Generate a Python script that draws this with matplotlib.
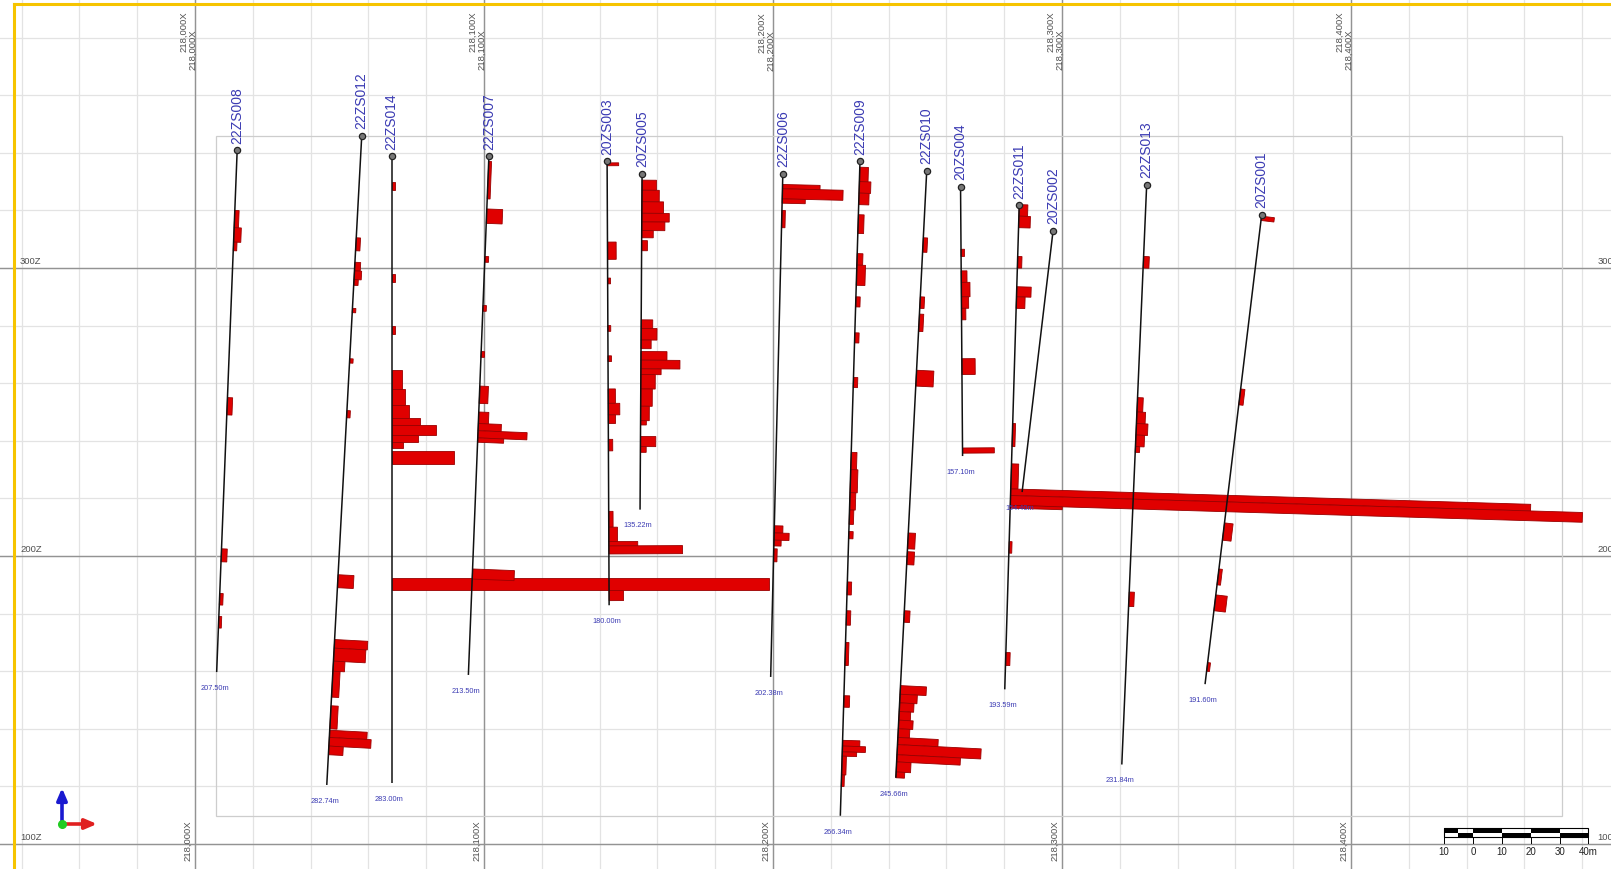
import matplotlib
matplotlib.use('Agg')
import matplotlib.pyplot as plt
from matplotlib.patches import Polygon, Rectangle
from matplotlib.lines import Line2D
import numpy as np

# ---------------- data ----------------
hole_ids = ['22ZS008', '22ZS012', '22ZS014', '22ZS007', '20ZS003', '20ZS005', '22ZS006',
            '22ZS009', '22ZS010', '20ZS004', '22ZS011', '20ZS002', '22ZS013', '20ZS001']
collar_x = [218014.6, 218057.7, 218068.0, 218101.7, 218142.6, 218154.7, 218203.4,
            218230.1, 218253.2, 218264.9, 218285.2, 218296.9, 218329.3, 218369.1]
collar_z = [340.9, 345.9, 338.8, 338.8, 337.0, 332.7, 332.7,
            337.0, 333.8, 328.1, 321.7, 312.8, 328.8, 318.5]
end_x = [218007.5, 218045.6, 218068.0, 218094.6, 218143.3, 218154.0, 218199.2,
         218223.3, 218242.5, 218265.6, 218280.2, 218286.2, 218320.7, 218349.5]
end_z = [159.7, 120.5, 121.2, 158.7, 182.9, 216.1, 158.0,
         109.8, 123.0, 234.7, 153.7, 222.2, 127.6, 155.5]
depth_labels = ['207.50m', '282.74m', '283.00m', '213.50m', '180.00m', '135.22m', '202.38m',
                '266.34m', '245.66m', '157.10m', '193.59m', '154.40m', '231.84m', '191.60m']

# assay intervals per hole: (elevation top, elevation bottom, value)
intervals = {
    '22ZS008': [(320, 314, 1.5), (314, 309, 2.5), (309, 306, 1.2), (255, 249, 1.8), (202.5, 198, 2.0),
                (187, 183, 1.2), (179, 175, 1.0)],
    '22ZS012': [(310.5, 306, 1.5), (302, 299, 2.0), (299, 296, 2.5), (296, 294, 1.5), (286, 284.5, 1.2),
                (268.5, 267, 1.2), (250.5, 248, 1.2), (193.5, 189, 5.5), (171, 168, 11.5), (168, 163.5, 11),
                (163.5, 160, 4), (160, 151, 2.5), (148, 140, 2.5), (139.5, 137, 13), (137, 134, 14.5),
                (134, 131, 5)],
    '22ZS014': [(330, 327, 1.2), (298, 295, 1.2), (280, 277, 1.2), (264.5, 258, 3.5), (258, 252.5, 4.5),
                (252.5, 248, 6), (248, 245.5, 10), (245.5, 242, 15.5), (242, 239.5, 9), (239.5, 237.5, 4),
                (236.5, 232, 21.5), (192.4, 188.2, 130.6)],
    '22ZS007': [(337, 324, 1.0), (320.5, 315.5, 5.5), (304, 302, 1.3), (287, 285, 1.2), (271, 269, 1.2),
                (259, 253, 3), (250, 246, 3.5), (246, 243.5, 8), (243.5, 241, 17), (241, 239.5, 9),
                (195.5, 192, 14.5)],
    '20ZS003': [(336.5, 335.5, 4), (309, 303, 3), (296.5, 294.5, 1), (280, 278, 1), (269.5, 267.5, 1.2),
                (258, 253, 2.5), (253, 249, 4), (249, 246, 2.5), (240.5, 236.5, 1.5), (215.5, 210, 1.5),
                (210, 205, 3), (205, 203.5, 10), (203.5, 200.7, 25.5), (188, 184.5, 5)],
    '20ZS005': [(330.5, 327, 5), (327, 323, 6), (323, 319, 7.5), (319, 316, 9.5), (316, 313, 8),
                (313, 310.5, 4), (309.5, 306, 2), (282, 279, 4), (279, 275, 5.5), (275, 272, 3.5),
                (271, 268, 9), (268, 265, 13.5), (265, 263, 7), (263, 258, 5), (258, 252, 4), (252, 247, 3),
                (247, 245.5, 2), (241.5, 238, 5.3), (238, 236, 2)],
    '22ZS006': [(329, 327.5, 13), (327.5, 324, 21), (324, 322.5, 8), (320, 314, 1.2), (210.5, 208, 3),
                (208, 205.5, 5.2), (205.5, 203.5, 2.5), (202.5, 198, 1.2)],
    '22ZS009': [(335, 330, 3), (330, 326, 4), (326, 322, 3.5), (318.5, 312, 2), (305, 301, 2), (301, 294, 3),
                (290, 286.5, 1.5), (277.5, 274, 1.5), (262, 258.5, 1.5), (236, 230, 2), (230, 222, 2.5),
                (222, 216, 2), (216, 211, 1.5), (208.5, 206, 1.5), (191, 186.5, 1.5), (181, 176, 1.5),
                (170, 162, 1.2), (151.5, 147.5, 2), (136, 134, 6), (134, 132, 8), (132, 130.5, 5),
                (130.5, 124, 1.5), (124, 120, 1)],
    '22ZS010': [(310.5, 305.5, 1.5), (290, 286, 1.5), (284, 278, 1.5), (264.5, 259, 6), (208, 202.5, 2.5),
                (201.5, 197, 2.5), (181, 177, 2), (155, 152, 9), (152, 149, 6), (149, 146, 5), (146, 143, 4),
                (143, 140, 5), (140, 137, 4), (137, 134.5, 14), (134.5, 131, 29), (131, 128.5, 22),
                (128.5, 125, 5), (125, 123, 3)],
    '20ZS004': [(306.5, 304, 1.2), (299, 295, 2), (295, 290, 3), (290, 286, 2.5), (286, 282, 1.5),
                (268.5, 263, 4.6), (237.5, 235.7, 11)],
    '22ZS011': [(322, 318, 3), (318, 314, 4), (304, 300, 1.5), (293.5, 290, 5), (290, 286, 3), (246, 238, 1),
                (232, 223.3, 2.5), (223.3, 221.0, 180), (221.0, 217.6, 198), (217.6, 216.6, 18),
                (205, 201, 1), (166.5, 162, 1.5)],
    '20ZS002': [],
    '22ZS013': [(304, 300, 2), (255, 250, 2), (250, 246, 3), (246, 242, 4), (242, 238, 3), (238, 236, 1.5),
                (187.5, 182.5, 1.8)],
    '20ZS001': [(318, 316.5, 4.5), (258, 252.5, 1.5), (211.5, 205.5, 3), (195.5, 190, 1.2), (186.5, 181, 4),
                (163, 160, 1)],
}

easting_ticks = [218000, 218100, 218200, 218300, 218400]
easting_labels = ['218,000X', '218,100X', '218,200X', '218,300X', '218,400X']
elev_ticks = [100, 200, 300]
elev_labels = ['100Z', '200Z', '300Z']
scale_labels = ['10', '0', '10', '20', '30', '40m']
scale_steps = [0, 10, 20, 30, 40, 50]

# ---------------- figure ----------------
W, H = 1611, 870
fig = plt.figure(figsize=(W / 100, H / 100), dpi=100)
ax = fig.add_axes([0, 0, 1, 1])
X0, X1 = 217932.53, 218489.97
Z0, Z1 = 91.32, 393.40
ax.set_xlim(X0, X1)
ax.set_ylim(Z0, Z1)
ax.axis('off')


def px(xp, yp):
    return X0 + xp / W * (X1 - X0), Z1 - yp / H * (Z1 - Z0)


FONT = 'Liberation Sans'
BLUE = '#3b3bb3'

# grid
for xv in np.arange(217940, 218481, 20):
    ax.axvline(xv, color='#e3e3e3', lw=0.9, zorder=0.5)
for zv in np.arange(100, 391, 20):
    ax.axhline(zv, color='#e3e3e3', lw=0.9, zorder=0.5)
for xv in easting_ticks:
    ax.axvline(xv, color='#939393', lw=1.0, zorder=1)
for zv in elev_ticks:
    ax.axhline(zv, color='#939393', lw=1.0, zorder=1)

# inner frame
fx0, fz1 = px(216, 137)
fx1, fz0 = px(1562, 817)
ax.add_patch(Rectangle((fx0, fz0), fx1 - fx0, fz1 - fz0, fill=False, ec='#cdcdcd', lw=0.9, zorder=1.2))

# axis labels
for xv, lab in zip(easting_ticks, easting_labels):
    ax.annotate(lab, (xv, Z1), xytext=(-8, -8.5), textcoords='offset points', rotation=90,
                ha='center', va='top', fontsize=6.8, color='#505050', family=FONT)
    ax.annotate(lab, (xv, Z1), xytext=(-1.5, -21.5), textcoords='offset points', rotation=90,
                ha='center', va='top', fontsize=6.8, color='#505050', family=FONT)
    ax.annotate(lab, (xv, Z0), xytext=(-5, 36), textcoords='offset points', rotation=90,
                ha='center', va='top', fontsize=6.8, color='#505050', family=FONT)
for zv, lab in zip(elev_ticks, elev_labels):
    ax.annotate(lab, (X0, zv), xytext=(14.4, 2.5), textcoords='offset points',
                ha='left', va='bottom', fontsize=6.8, color='#505050', family=FONT)
    ax.annotate(lab, (X1, zv), xytext=(-10, 2.5), textcoords='offset points',
                ha='left', va='bottom', fontsize=6.8, color='#505050', family=FONT)

# holes
for i, hid in enumerate(hole_ids):
    cx, cz, ex, ez = collar_x[i], collar_z[i], end_x[i], end_z[i]
    d = np.array([ex - cx, ez - cz])
    d = d / np.hypot(*d)
    n = np.array([-d[1], d[0]])  # perpendicular pointing right

    def pos(z):
        t = (cz - z) / (cz - ez)
        return np.array([cx + t * (ex - cx), cz + t * (ez - cz)])

    for (zt, zb, v) in intervals[hid]:
        p1, p2 = pos(zt), pos(zb)
        poly = [p1, p2, p2 + v * n, p1 + v * n]
        ax.add_patch(Polygon(poly, closed=True, fc='#e00000', ec='#9a0000', lw=0.6, zorder=3))

    ax.plot([cx, ex], [cz, ez], color='#111111', lw=1.1, zorder=4, solid_capstyle='butt')
    ax.plot([cx], [cz], 'o', ms=4.5, mfc='#777777', mec='#222222', mew=0.9, zorder=5)
    ax.annotate(hid, (cx, cz), xytext=(0, 5.5), textcoords='offset points', rotation=90,
                ha='center', va='bottom', fontsize=10, color=BLUE, family=FONT, zorder=6)
    ax.annotate(depth_labels[i], (ex, ez), xytext=(-1.5, -11), textcoords='offset points',
                ha='center', va='center', fontsize=5.3, color=BLUE, family=FONT, zorder=6)

# scale bar
sx0, sz_top = px(1444, 829)
_, sz_mid = px(1444, 833.5)
_, sz_bot = px(1444, 837.5)
_, sz_tick = px(1444, 844)
_, sz_lab = px(1444, 852)
ax.add_patch(Rectangle((sx0, sz_bot), 50, sz_top - sz_bot, fill=False, ec='black', lw=0.8, zorder=6))
blocks = [(0, 5, 'top'), (5, 10, 'bot'), (10, 20, 'top'), (20, 30, 'bot'), (30, 40, 'top'), (40, 50, 'bot')]
for a, b, row in blocks:
    if row == 'top':
        ax.add_patch(Rectangle((sx0 + a, sz_mid), b - a, sz_top - sz_mid, fc='black', ec='none', zorder=6))
    else:
        ax.add_patch(Rectangle((sx0 + a, sz_bot), b - a, sz_mid - sz_bot, fc='black', ec='none', zorder=6))
for st, lab in zip(scale_steps, scale_labels):
    ax.plot([sx0 + st, sx0 + st], [sz_bot, sz_tick], color='black', lw=0.7, zorder=6)
    ax.text(sx0 + st, sz_lab, lab, ha='center', va='center', fontsize=7, color='#222222',
            family=FONT, zorder=6)

# orientation triad
ax.annotate('', xy=(62, H - 789), xytext=(62, H - 826), xycoords='figure pixels',
            textcoords='figure pixels',
            arrowprops=dict(arrowstyle='-|>,head_length=0.7,head_width=0.3', color='#1a1ad0', lw=2.6,
                            shrinkA=0, shrinkB=0))
ax.annotate('', xy=(97, H - 825), xytext=(61, H - 825), xycoords='figure pixels',
            textcoords='figure pixels',
            arrowprops=dict(arrowstyle='-|>,head_length=0.7,head_width=0.3', color='#e02020', lw=2.6,
                            shrinkA=0, shrinkB=0))
fig.add_artist(Line2D([62 / W], [1 - 825 / H], marker='o', ms=5.5, color='#22cc22',
                      transform=fig.transFigure, zorder=10))

# yellow frame
ycol = '#f6c400'
fig.add_artist(Line2D([13.5 / W, 13.5 / W], [0, 1 - 5 / H], color=ycol, lw=2.2, transform=fig.transFigure))
fig.add_artist(Line2D([13.5 / W, 1], [1 - 5 / H, 1 - 5 / H], color=ycol, lw=2.2, transform=fig.transFigure))

fig.savefig('out.png', dpi=100)
